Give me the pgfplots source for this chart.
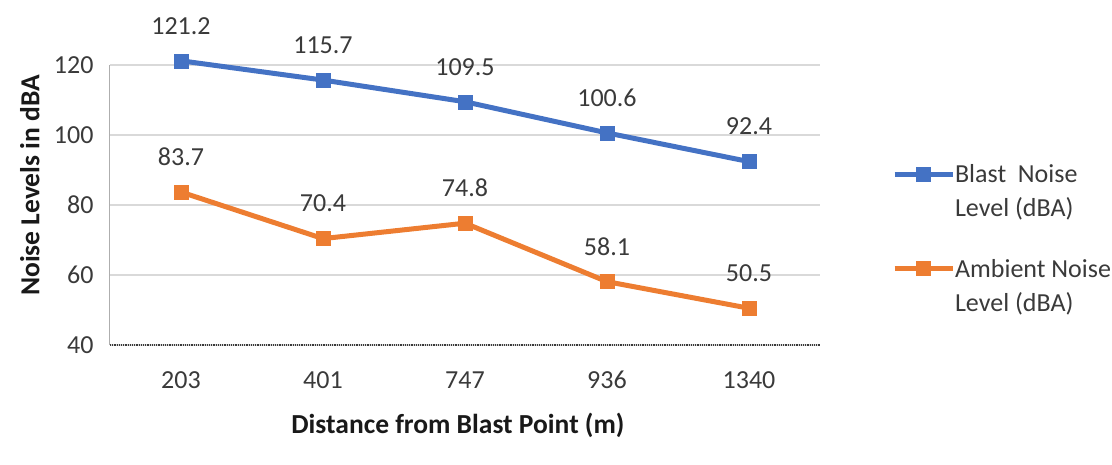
\documentclass[border=0pt]{standalone}
\usepackage{pgfplots}
\pgfplotsset{compat=1.18}
\usepackage{fontspec}
\setmainfont{Carlito}
\definecolor{blastblue}{HTML}{4472C4}
\definecolor{ambientorange}{HTML}{ED7D31}
\definecolor{labelgray}{HTML}{3A3A3A}
\definecolor{gridgray}{HTML}{D9D9D9}

\begin{document}
\begin{tikzpicture}
\begin{axis}[
  name=ax,
  scale only axis, width=710pt, height=280pt,
  xmin=-0.5, xmax=4.5, ymin=40, ymax=120,
  xtick={0,1,2,3,4}, xticklabels={203,401,747,936,1340},
  ytick={40,60,80,100,120},
  axis lines*=left,
  x axis line style={labelgray, line width=1.2pt, densely dotted},
  y axis line style={gridgray!80!black, line width=1pt},
  ymajorgrids, grid style={gridgray, line width=1.2pt},
  major tick length=0pt,
  clip=false,
  /pgf/number format/assume math mode=true,
  tick label style={font=\fontsize{26}{30}\selectfont, text=labelgray},
  every x tick label/.append style={anchor=center, yshift=-35pt},
  every y tick label/.append style={xshift=-13pt},
  xlabel={Distance from Blast Point (m)},
  ylabel={Noise Levels in dBA},
  label style={font=\bfseries\fontsize{27.5}{32}\selectfont, text=black!90},
  xlabel style={at={(axis description cs:0.49,-0.286)}, anchor=center},
  ylabel style={at={(axis description cs:-0.113,0.57)}, anchor=center, rotate=0},
  point meta=y,
  nodes near coords={\pgfmathprintnumber[fixed,precision=1,zerofill,assume math mode=true]{\pgfplotspointmeta}},
  every node near coord/.append style={font=\fontsize{26}{30}\selectfont, text=labelgray, anchor=center, yshift=35pt},
  legend style={at={(axis description cs:1.097,0.66)}, anchor=north west, draw=none, fill=none,
    font=\fontsize{26}{34}\selectfont, text=labelgray, row sep=37pt,
    nodes={align=left, inner xsep=0pt}},
  legend cell align=left,
  legend image code/.code={\draw[mark repeat=2,mark phase=2,yshift=17pt,#1] plot coordinates {(0pt,0pt)(29pt,0pt)(58pt,0pt)};},
]
\addplot[blastblue, line width=5pt, mark=square*, mark size=7pt, mark options={line width=0.5pt}]
  coordinates {(0,121.2) (1,115.7) (2,109.5) (3,100.6) (4,92.4)};
\addlegendentry{Blast~\ Noise\\Level (dBA)}
\addplot[ambientorange, line width=5pt, mark=square*, mark size=7pt, mark options={line width=0.5pt}]
  coordinates {(0,83.7) (1,70.4) (2,74.8) (3,58.1) (4,50.5)};
\addlegendentry{Ambient Noise\\Level (dBA)}
\end{axis}
\pgfresetboundingbox
\path (ax.south west) ++(-110pt,-120pt) rectangle ++(1112pt,465pt);
\end{tikzpicture}
\end{document}
